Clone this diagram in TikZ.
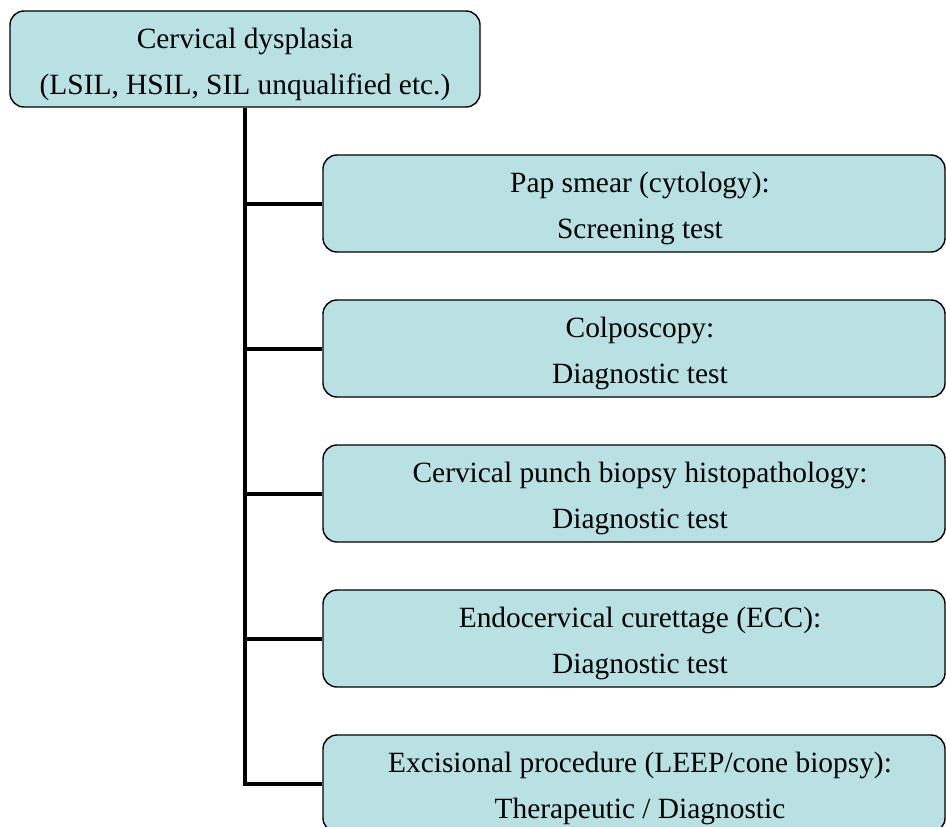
\documentclass[tikz,border=0pt]{standalone}
\usepackage{fontspec}
\setmainfont{Liberation Serif}
\definecolor{boxfill}{RGB}{185,224,227}
\tikzset{
  box/.style={draw=black, line width=1.4pt, fill=boxfill, rounded corners=14pt, inner sep=0pt},
  topbox/.style={box, minimum width=470pt, minimum height=96pt},
  childbox/.style={box, minimum width=622pt, minimum height=97pt},
  txt/.style={align=center, inner sep=0pt, font=\fontsize{29.4pt}{46pt}\selectfont},
  conn/.style={line width=4pt, black}
}
\begin{document}
\begin{tikzpicture}[x=1pt,y=1pt]
\useasboundingbox (0,0) rectangle (946,-827);
\node[topbox] (top) at (245,-59) {};
\node[txt] (toptxt) at ([yshift=-5pt]top.center) {Cervical dysplasia\\(LSIL, HSIL, SIL unqualified etc.)};
\node[childbox] (b1) at (634,-203.5) {};
\node[childbox] (b2) at (634,-348.5) {};
\node[childbox] (b3) at (634,-493.5) {};
\node[childbox] (b4) at (634,-638.5) {};
\node[childbox] (b5) at (634,-783.5) {};
\node[txt] (t1) at ([xshift=6pt,yshift=-5pt]b1.center) {Pap smear (cytology):\\Screening test};
\node[txt] (t2) at ([xshift=6pt,yshift=-5pt]b2.center) {Colposcopy:\\Diagnostic test};
\node[txt] (t3) at ([xshift=6pt,yshift=-5pt]b3.center) {Cervical punch biopsy histopathology:\\Diagnostic test};
\node[txt] (t4) at ([xshift=6pt,yshift=-5pt]b4.center) {Endocervical curettage (ECC):\\Diagnostic test};
\node[txt] (t5) at ([xshift=6pt,yshift=-5pt]b5.center) {Excisional procedure (LEEP/cone biopsy):\\Therapeutic / Diagnostic};
\draw[conn] (top.south) |- (b5.west);
\draw[conn] (top.south |- b1.west) -- (b1.west);
\draw[conn] (top.south |- b2.west) -- (b2.west);
\draw[conn] (top.south |- b3.west) -- (b3.west);
\draw[conn] (top.south |- b4.west) -- (b4.west);
\end{tikzpicture}
\end{document}
